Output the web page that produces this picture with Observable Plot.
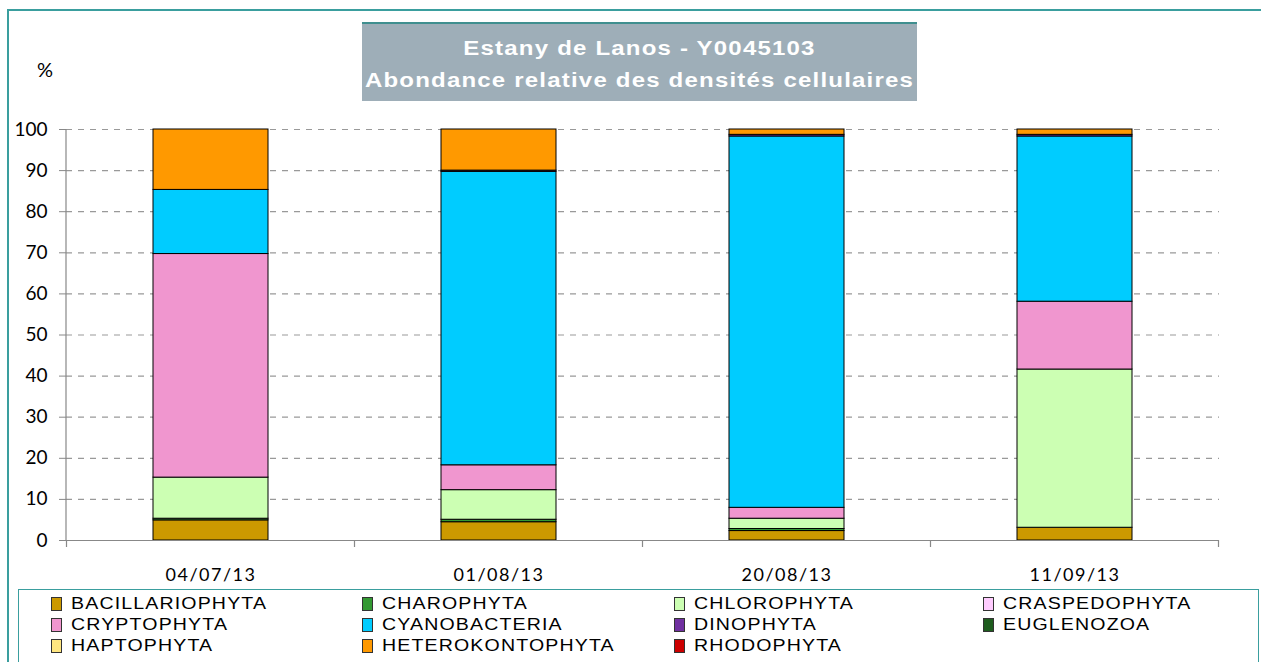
<!DOCTYPE html>
<html>
<head>
<meta charset="utf-8">
<script src="https://cdn.jsdelivr.net/npm/d3@7"></script>
<script src="https://cdn.jsdelivr.net/npm/@observablehq/plot@0.6"></script>
<style>
  body { margin: 0; background: #fff; }
  #wrap { position: relative; width: 1261px; height: 662px; overflow: hidden; background: #fff; font-family: "Liberation Sans", Arial, sans-serif; }
  #chart { position: absolute; left: 0; top: 0; }
  #frame { position: absolute; left: 7px; top: 9px; width: 1300px; height: 700px; border: 2px solid #3a9e9e; pointer-events: none; }
  #title { position: absolute; left: 362px; top: 22px; width: 555px; height: 79px; background: #9eaeb8; border-top: 2px solid #3f8f8f; box-sizing: border-box; color: #fff; font-weight: bold; text-align: center; padding-top: 8px; }
  #title div { font-size: 20px; letter-spacing: 1px; line-height: 32px; white-space: nowrap; transform: scaleX(1.2); transform-origin: center; }
  #pct { position: absolute; left: 37px; top: 57px; font-family: Lato, sans-serif; font-size: 20px; }
  #legend { position: absolute; left: 18px; top: 589px; width: 1241px; height: 120px; border: 1.5px solid #3a9e9e; box-sizing: border-box; }
  .item { position: absolute; display: flex; align-items: center; white-space: nowrap; }
  .item span { font-size: 17px; letter-spacing: 1px; display: inline-block; transform: scaleX(1.15); transform-origin: left center; }
  .sw { width: 9px; height: 12px; border: 1px solid #333; margin-right: 9px; flex: none; }
</style>
</head>
<body>
<div id="wrap">
  <div id="chart"></div>
  <div id="frame"></div>
  <div id="title"><div>Estany de Lanos - Y0045103</div><div>Abondance relative des densités cellulaires</div></div>
  <div id="pct">%</div>
  <div id="legend"></div>
</div>
<script>
const dates = ["04/07/13", "01/08/13", "20/08/13", "11/09/13"];
const taxa = ["BACILLARIOPHYTA", "CHAROPHYTA", "CHLOROPHYTA", "CRASPEDOPHYTA", "CRYPTOPHYTA", "CYANOBACTERIA", "DINOPHYTA", "EUGLENOZOA", "HAPTOPHYTA", "HETEROKONTOPHYTA", "RHODOPHYTA"];
const taxaColors = ["#cc9900", "#339933", "#ccffb3", "#ffccff", "#f096cf", "#00ccff", "#7030a0", "#1e5c1e", "#ffe680", "#ff9900", "#cc0000"];

const bacillariophyta = [4.9, 4.45, 2.3, 3.1];
const charophyta = [0.4, 0.6, 0.5, 0];
const chlorophyta = [10.0, 7.2, 2.5, 38.5];
const craspedophyta = [0, 0, 0, 0];
const cryptophyta = [54.4, 6.05, 2.65, 16.5];
const cyanobacteria = [15.6, 71.4, 90.35, 40.2];
const dinophyta = [0, 0.3, 0.4, 0.4];
const euglenozoa = [0, 0, 0, 0];
const haptophyta = [0, 0, 0, 0];
const heterokontophyta = [14.7, 10.0, 1.3, 1.3];
const rhodophyta = [0, 0, 0, 0];

const yTicks = [0, 10, 20, 30, 40, 50, 60, 70, 80, 90, 100];

const seriesValues = [bacillariophyta, charophyta, chlorophyta, craspedophyta, cryptophyta, cyanobacteria, dinophyta, euglenozoa, haptophyta, heterokontophyta, rhodophyta];

const rows = [];
taxa.forEach((t, i) => dates.forEach((d, j) => {
  const v = seriesValues[i][j];
  if (v > 0) rows.push({date: d, taxon: t, value: v});
}));

function axisExtras(index, scales, values, dims) {
  const x = scales.x;
  const bw = typeof x.bandwidth === "function" ? x.bandwidth() : (scales.scales && scales.scales.x.bandwidth) || 0;
  const xs = dates.map(d => x(d));
  const gap = xs[1] - xs[0] - bw;
  const bounds = [xs[0] - gap / 2, ...xs.map(v => v + bw + gap / 2)];
  const y0 = dims.height - dims.marginBottom;
  const g = d3.create("svg:g").attr("stroke", "#888").attr("stroke-width", 1.2);
  g.append("line").attr("x1", dims.marginLeft).attr("x2", dims.marginLeft)
    .attr("y1", dims.marginTop).attr("y2", y0);
  bounds.forEach(b => g.append("line").attr("x1", b).attr("x2", b).attr("y1", y0).attr("y2", y0 + 7));
  return g.node();
}

const chart = Plot.plot({
  width: 1261,
  height: 662,
  marginTop: 129,
  marginBottom: 122,
  marginLeft: 66,
  marginRight: 42,
  style: {background: "transparent", fontFamily: "Lato, sans-serif", color: "#000", overflow: "visible"},
  x: {domain: dates, paddingInner: 0.6, paddingOuter: 0.3, label: null},
  y: {domain: [0, 100], label: null},
  color: {domain: taxa, range: taxaColors},
  marks: [
    Plot.gridY(yTicks.filter(v => v > 0), {stroke: "#999", strokeOpacity: 1, strokeDasharray: "6,6", strokeWidth: 1.2}),
    Plot.barY(rows, {x: "date", y: "value", fill: "taxon", stroke: "#000", strokeWidth: 1, order: taxa}),
    Plot.ruleY([0], {stroke: "#888", strokeWidth: 1.2}),
    Plot.axisY({ticks: yTicks, tickSize: 7, tickPadding: 12, stroke: "#888", fontSize: 19, label: null}),
    Plot.axisX({tickSize: 0, tickPadding: 28, fontSize: 18, label: null}),
    axisExtras
  ]
});
document.getElementById("chart").appendChild(chart);
d3.select(chart).selectAll('[aria-label="x-axis tick label"] text').style("letter-spacing", "1.5px");

const legend = d3.select("#legend");
const colX = [51, 362, 674, 983];
const rowY = [604, 625, 646];
taxa.forEach((t, i) => {
  const c = i % 4, r = Math.floor(i / 4);
  const item = legend.append("div").attr("class", "item")
    .style("left", (colX[c] - 19) + "px")
    .style("top", (rowY[r] - 590 - 10) + "px");
  item.append("div").attr("class", "sw").style("background", taxaColors[i]);
  item.append("span").text(t);
});
</script>
</body>
</html>
